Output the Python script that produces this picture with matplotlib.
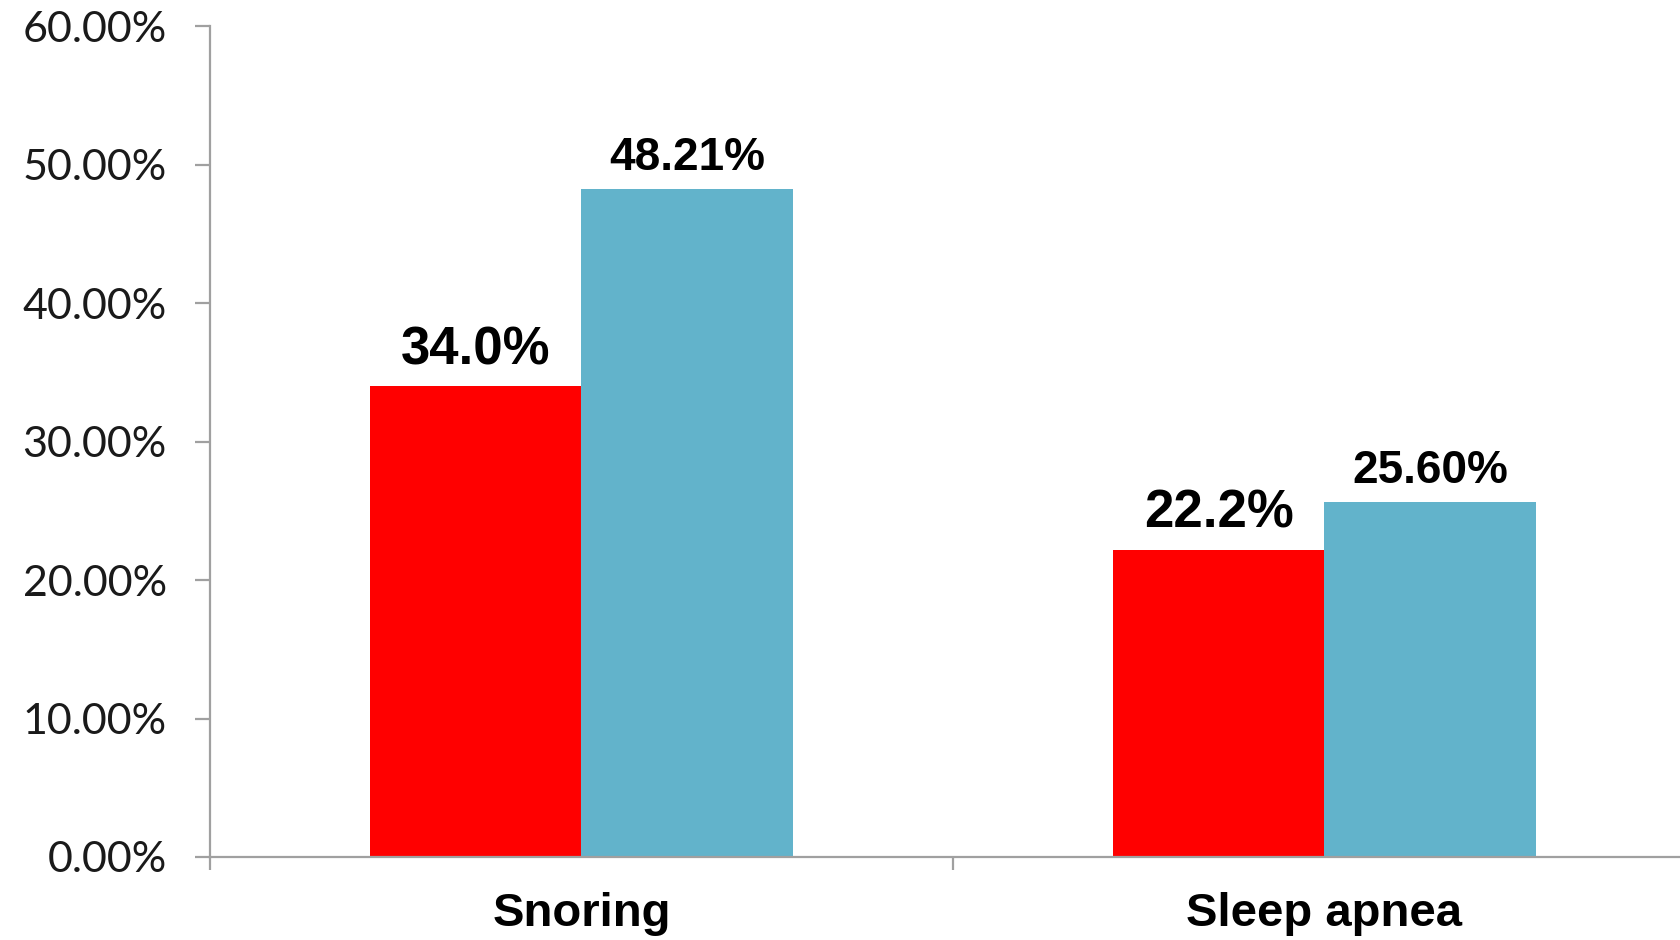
import numpy as np
import matplotlib.pyplot as plt

# data
categories = ["Snoring", "Sleep apnea"]
red_vals = [34.0, 22.2]
blue_vals = [48.21, 25.60]
red_labels = ["34.0%", "22.2%"]
blue_labels = ["48.21%", "25.60%"]
yticks = [0, 10, 20, 30, 40, 50, 60]
ytick_labels = ["0.00%", "10.00%", "20.00%", "30.00%", "40.00%", "50.00%", "60.00%"]

fig = plt.figure(figsize=(16.81, 9.40), dpi=100)
ax = fig.add_axes([0.1249, 0.0883, 0.8751, 0.884])

x = np.arange(len(categories))
w = 0.285
b1 = ax.bar(x - w / 2, red_vals, w, color="#FF0000")
b2 = ax.bar(x + w / 2, blue_vals, w, color="#62B3CB")

ax.bar_label(b1, labels=red_labels, padding=8, fontsize=38, fontweight="bold",
             family="Liberation Sans")
ax.bar_label(b2, labels=blue_labels, padding=7, fontsize=33, fontweight="bold",
             family="Liberation Sans")

ax.set_xlim(-0.5, 1.48)
ax.set_ylim(0, 60)

for s in ["top", "right"]:
    ax.spines[s].set_visible(False)
for s in ["left", "bottom"]:
    ax.spines[s].set_color("#A0A0A0")
    ax.spines[s].set_linewidth(1.6)

ax.set_yticks(yticks)
ax.set_yticklabels(ytick_labels, family="Lato", fontsize=31, color="#1a1a1a")
ax.tick_params(axis="y", length=11, width=1.6, color="#A0A0A0", pad=20)

ax.set_xticks(x)
ax.set_xticklabels(categories, family="Liberation Sans", fontweight="bold", fontsize=34)
ax.tick_params(axis="x", which="major", length=0, pad=25)
ax.set_xticks([-0.5, 0.5], minor=True)
ax.tick_params(axis="x", which="minor", length=9, width=1.6, color="#A0A0A0")

fig.savefig("out.png", dpi=100)
